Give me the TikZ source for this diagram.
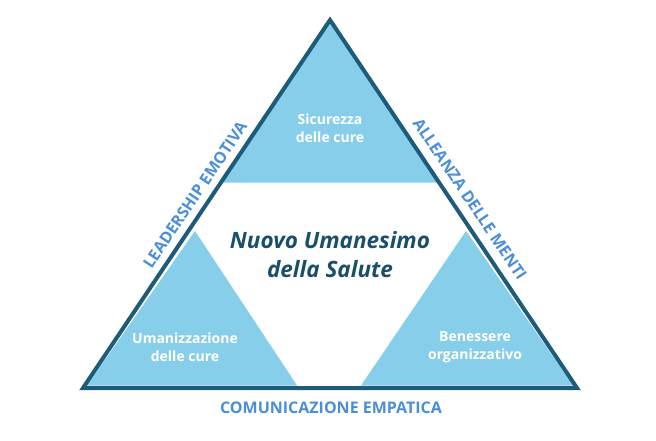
\documentclass[tikz,border=0pt]{standalone}
\usepackage{fontspec}
\setmainfont{Open Sans}
\definecolor{sky}{HTML}{87CEEB}
\definecolor{frame}{HTML}{1D5B78}
\definecolor{lab}{HTML}{4A8FD8}
\definecolor{core}{HTML}{1B4E6B}
\begin{document}
\begin{tikzpicture}[x=1pt,y=-1pt,
  corner/.style={fill=sky,draw=white,line width=0.8pt},
  intext/.style={text=white,font=\bfseries\fontsize{14}{18.5}\selectfont,align=center},
  sidelab/.style={text=lab,font=\bfseries\fontsize{16}{18}\selectfont}]
\useasboundingbox (0,0) rectangle (656,440);
\fill[white] (0,0) rectangle (656,440);
\coordinate (A) at (330,20);
\coordinate (L) at (83,388);
\coordinate (R) at (577,388);
\fill[corner] (330,22) -- (221,183) -- (439,183) -- cycle;
\fill[corner] (195,230) -- (86,386) -- (298,386) -- cycle;
\fill[corner] (466,230) -- (360,386) -- (574,386) -- cycle;
\draw[frame,line width=4pt,line join=miter] (A) -- (L) -- (R) -- cycle;
\node[intext] (top) at (330,128) {Sicurezza\\delle cure};
\node[intext] (lft) at (185,347) {Umanizzazione\\delle cure};
\node[intext] (rgt) at (475,347) {Benessere\\organizzativo};
\node[text=core,align=center,font=\bfseries\itshape\fontsize{22.5}{29}\selectfont] (mid) at (330,255) {Nuovo Umanesimo\\della Salute};
\node[sidelab] (bot) at (331,408) {COMUNICAZIONE EMPATICA};
\node[sidelab,rotate=56.1] (le) at (195,195) {LEADERSHIP EMOTIVA};
\node[sidelab,rotate=-56.1] (ri) at (470,199) {ALLEANZA DELLE MENTI};
\end{tikzpicture}
\end{document}
